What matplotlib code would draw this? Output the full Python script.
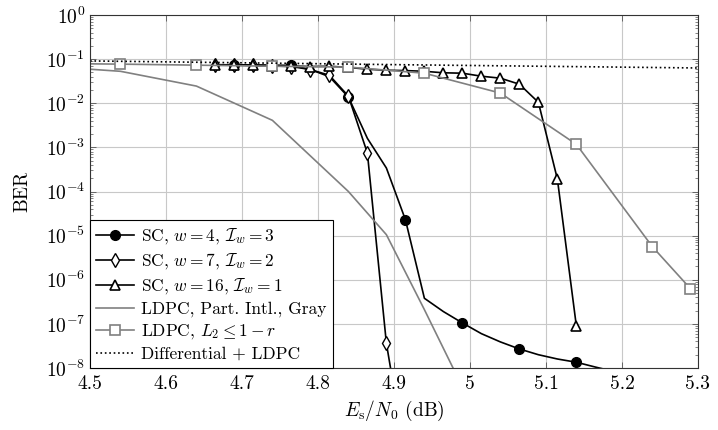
import matplotlib
matplotlib.use("Agg")
import matplotlib.pyplot as plt
import numpy as np
from matplotlib.ticker import LogLocator, FixedLocator, FuncFormatter, NullFormatter

plt.rcParams['font.family'] = 'serif'
plt.rcParams['font.serif'] = ['cmr10']
plt.rcParams['mathtext.fontset'] = 'cm'
plt.rcParams['axes.formatter.use_mathtext'] = True

# SC, w=4, I_w=3 (marker every 3rd point)
x_w4 = [4.69, 4.715, 4.74, 4.765, 4.79, 4.815, 4.84, 4.865, 4.89, 4.915, 4.94,
        4.965, 4.99, 5.015, 5.04, 5.065, 5.09, 5.115, 5.14, 5.165, 5.19]
y_w4 = [0.074, 0.074, 0.073, 0.072, 0.058, 0.040, 0.0138, 1.6e-3, 3.4e-4, 2.3e-5, 3.8e-7,
        1.9e-7, 1.05e-7, 6.0e-8, 3.9e-8, 2.7e-8, 2.0e-8, 1.6e-8, 1.35e-8, 1.05e-8, 8.3e-9]

# SC, w=7, I_w=2
x_w7 = [4.665, 4.69, 4.715, 4.74, 4.765, 4.79, 4.815, 4.84, 4.865, 4.89, 4.915]
y_w7 = [0.075, 0.074, 0.072, 0.070, 0.068, 0.058, 0.043, 0.0145, 7.4e-4, 3.6e-8, 1e-10]

# SC, w=16, I_w=1
x_w16 = [4.665, 4.69, 4.715, 4.74, 4.765, 4.79, 4.815, 4.84, 4.865, 4.89, 4.915, 4.94,
         4.965, 4.99, 5.015, 5.04, 5.065, 5.09, 5.115, 5.14]
y_w16 = [0.074, 0.073, 0.072, 0.071, 0.070, 0.068, 0.069, 0.065, 0.059, 0.056, 0.055, 0.053,
         0.049, 0.048, 0.041, 0.037, 0.027, 0.0105, 1.9e-4, 8.8e-8]

# LDPC, Part. Intl., Gray
x_pi = [4.5, 4.54, 4.64, 4.74, 4.84, 4.89, 4.94, 4.99]
y_pi = [0.059, 0.053, 0.0245, 4.1e-3, 1.0e-4, 1.05e-5, 2.1e-7, 3.7e-9]

# LDPC, L2 <= 1-r
x_l2 = [4.44, 4.54, 4.64, 4.74, 4.84, 4.94, 5.04, 5.14, 5.24, 5.29]
y_l2 = [0.080, 0.077, 0.073, 0.069, 0.066, 0.048, 0.017, 1.17e-3, 5.6e-6, 6.3e-7]

# Differential + LDPC
x_diff = [4.5, 4.9, 5.3]
y_diff = [0.091, 0.075, 0.063]

xticks = [4.5, 4.6, 4.7, 4.8, 4.9, 5.0, 5.1, 5.2, 5.3]

fig = plt.figure(figsize=(7.18, 4.30), dpi=100)
ax = fig.add_axes([90/718, 1-368/430, 608/718, 353/430])

gray = '#808080'
ax.semilogy(x_w4, y_w4, '-', color='black', lw=1.2, marker='o', ms=7,
            mfc='black', mec='black', markevery=3, label=r'SC, $w=4$, $\mathcal{I}_w=3$')
ax.semilogy(x_w7, y_w7, '-', color='black', lw=1.2, marker='d', ms=7.5,
            mfc='white', mec='black', mew=1.0, label=r'SC, $w=7$, $\mathcal{I}_w=2$')
ax.semilogy(x_w16, y_w16, '-', color='black', lw=1.2, marker='^', ms=7,
            mfc='white', mec='black', mew=1.2, label=r'SC, $w=16$, $\mathcal{I}_w=1$')
ax.semilogy(x_pi, y_pi, '-', color=gray, lw=1.2, label='LDPC, Part. Intl., Gray')
ax.semilogy(x_l2, y_l2, '-', color=gray, lw=1.2, marker='s', ms=6.5,
            mfc='white', mec=gray, mew=1.2, label=r'LDPC, $L_2\leq 1-r$')
ax.semilogy(x_diff, y_diff, ':', color='black', lw=1.2, label='Differential + LDPC')

ax.set_xlim(4.5, 5.3)
ax.set_ylim(1e-8, 1)
ax.xaxis.set_major_locator(FixedLocator(xticks))
ax.xaxis.set_major_formatter(FuncFormatter(lambda v, p: '%g' % round(v, 2)))
ax.yaxis.set_major_locator(LogLocator(base=10, numticks=20))
ax.yaxis.set_minor_locator(LogLocator(base=10, subs=np.arange(2, 10), numticks=20))
ax.yaxis.set_minor_formatter(NullFormatter())

ax.grid(True, which='major', color='#c8c8c8', lw=0.8)
ax.set_axisbelow(True)
ax.tick_params(which='both', direction='in', top=True, right=True, color='#555555',
               labelsize=14)
ax.tick_params(axis='x', pad=5)
ax.tick_params(which='major', length=4, width=0.6)
ax.tick_params(which='minor', length=2.5, width=0.5)
for s in ax.spines.values():
    s.set_linewidth(0.8)
    s.set_color('#333333')

ax.set_xlabel(r'$E_\mathrm{s}/N_0$ (dB)', fontsize=14, labelpad=4)
ax.set_ylabel('BER', fontsize=14, labelpad=10)

leg = ax.legend(loc='lower left', fontsize=12.5, frameon=True, fancybox=False,
                framealpha=1, edgecolor='black', borderaxespad=0, handlelength=2.2,
                labelspacing=0.3, borderpad=0.35, handletextpad=0.4)
leg.get_frame().set_linewidth(0.8)

fig.savefig('out.png', dpi=100)
